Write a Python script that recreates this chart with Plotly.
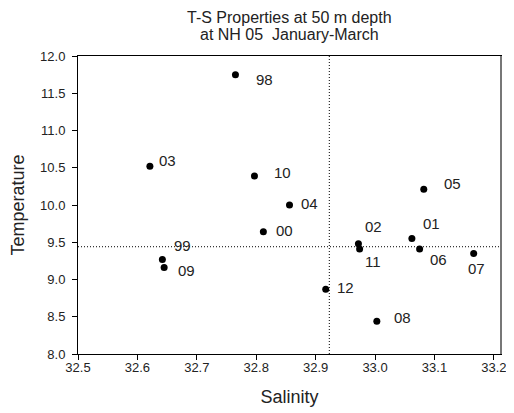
import plotly.graph_objects as go

years = ["98", "03", "10", "04", "00", "99", "09", "05", "02", "11", "01", "06", "07", "12", "08"]
salinity = [32.765, 32.621, 32.797, 32.856, 32.812, 32.642, 32.645, 33.082, 32.972, 32.974, 33.062, 33.075, 33.166, 32.917, 33.003]
temperature = [11.75, 10.52, 10.39, 10.00, 9.64, 9.27, 9.16, 10.21, 9.48, 9.41, 9.55, 9.41, 9.35, 8.87, 8.44]
label_dx = [29, 18, 28, 20, 21, 20, 22, 29, 15, 13, 20, 19, 3, 20, 26]
label_dy = [5, -6, -3, -2, -1, -14, 3, -6, -17, 13, -15, 11, 15, -2, -4]
mean_salinity = 32.923
mean_temperature = 9.44

x_ticks = [32.5, 32.6, 32.7, 32.8, 32.9, 33.0, 33.1, 33.2]
y_ticks = [8.0, 8.5, 9.0, 9.5, 10.0, 10.5, 11.0, 11.5, 12.0]

title_lines = ["T-S Properties at 50 m depth", "at NH 05\u00a0\u00a0January-March"]

font = "Liberation Sans, Arial, sans-serif"
txt = "#222"

fig = go.Figure()
fig.add_trace(go.Scatter(
    x=salinity, y=temperature, mode="markers",
    marker=dict(color="black", size=7),
    showlegend=False, hoverinfo="skip",
))

for yr, s, t, dx, dy in zip(years, salinity, temperature, label_dx, label_dy):
    fig.add_annotation(x=s, y=t, text=yr, showarrow=False,
                       xshift=dx, yshift=-dy,
                       font=dict(family=font, size=15, color=txt))

fig.add_shape(type="line", xref="x", yref="paper", x0=mean_salinity, x1=mean_salinity,
              y0=0, y1=1, line=dict(color="black", width=1, dash="1px,2px"))
fig.add_shape(type="line", xref="paper", yref="y", x0=0, x1=1,
              y0=mean_temperature, y1=mean_temperature,
              line=dict(color="black", width=1, dash="1px,2px"))
# right border (grey)
fig.add_shape(type="line", xref="paper", yref="paper", x0=1, x1=1, y0=0, y1=1,
              line=dict(color="#777", width=2))

fig.add_annotation(text=title_lines[0], xref="paper", yref="paper", x=0.5, y=1.128,
                   xanchor="center", yanchor="middle", showarrow=False,
                   font=dict(family=font, size=16, color=txt))
fig.add_annotation(text=title_lines[1], xref="paper", yref="paper", x=0.5, y=1.0705,
                   xanchor="center", yanchor="middle", showarrow=False,
                   font=dict(family=font, size=16, color=txt))

fig.update_layout(
    width=506, height=405,
    margin=dict(l=69, r=8, t=48, b=59),
    paper_bgcolor="white", plot_bgcolor="white",
    font=dict(family=font, color=txt),
    xaxis=dict(range=[32.5, 33.212], tickvals=x_ticks,
               ticktext=[f"{v:.1f}" for v in x_ticks],
               showgrid=False, zeroline=False, showline=True, linecolor="black",
               linewidth=1, mirror=True, ticks="outside", ticklen=5, tickcolor="black",
               ticklabelstandoff=-4,
               tickfont=dict(size=13, family=font, color=txt),
               title=dict(text="Salinity", font=dict(size=18, family=font, color=txt), standoff=16)),
    yaxis=dict(range=[8.0, 12.0], tickvals=y_ticks,
               ticktext=[f"{v:.1f}" for v in y_ticks],
               showgrid=False, zeroline=False, showline=True, linecolor="black",
               linewidth=1, mirror=True, ticks="outside", ticklen=5, tickcolor="black",
               ticklabelstandoff=4,
               tickfont=dict(size=13, family=font, color=txt),
               title=dict(text="Temperature", font=dict(size=18, family=font, color=txt), standoff=11)),
)

fig.write_html("out.html")
